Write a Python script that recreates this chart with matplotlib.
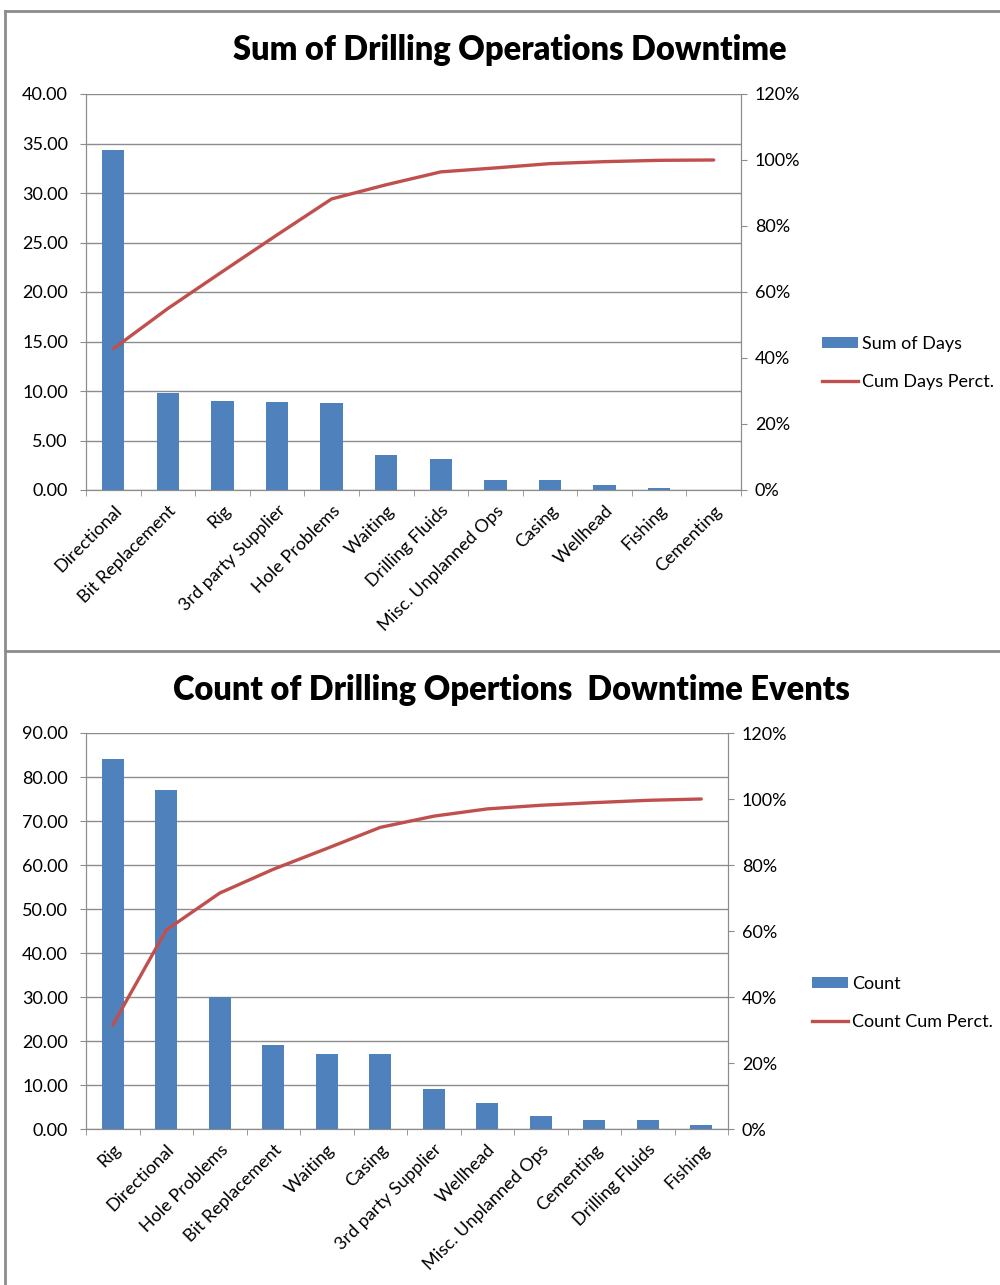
import matplotlib
matplotlib.use("Agg")
import matplotlib.pyplot as plt
from matplotlib.lines import Line2D
from matplotlib.patches import Patch
from matplotlib.ticker import FuncFormatter, MultipleLocator
import numpy as np

plt.rcParams['font.family'] = ['Lato', 'DejaVu Sans']

# --- Downtime in days by category ---
days_categories = ["Directional", "Bit Replacement", "Rig", "3rd party Supplier",
                   "Hole Problems", "Waiting", "Drilling Fluids", "Misc. Unplanned Ops",
                   "Casing", "Wellhead", "Fishing", "Cementing"]
sum_of_days = [34.3, 9.8, 9.0, 8.9, 8.8, 3.5, 3.1, 1.0, 1.0, 0.5, 0.2, 0.05]
cum_days_pct = [42.8, 55.0, 66.2, 77.3, 88.2, 92.5, 96.4, 97.6, 98.9, 99.5, 99.9, 100.0]

# --- Downtime event counts by category ---
count_categories = ["Rig", "Directional", "Hole Problems", "Bit Replacement", "Waiting",
                    "Casing", "3rd party Supplier", "Wellhead", "Misc. Unplanned Ops",
                    "Cementing", "Drilling Fluids", "Fishing"]
event_count = [84, 77, 30, 19, 17, 17, 9, 6, 3, 2, 2, 1]
count_cum_pct = [31.5, 60.3, 71.5, 78.7, 85.0, 91.4, 94.8, 97.0, 98.1, 98.9, 99.6, 100.0]

BLUE = "#4F81BD"
RED = "#C0504D"
GRID = "#8C8C8C"
AXIS = "#8C8C8C"
FS = 13

W, H = 1000, 1285
fig = plt.figure(figsize=(W / 100, H / 100), dpi=100)


def px_axes(left, top, right, bottom):
    return fig.add_axes([left / W, 1 - bottom / H, (right - left) / W, (bottom - top) / H])


def pareto(box, cats, vals, pct, ymax, ystep, title, title_xy, bar_label, line_label, leg_xy):
    ax = px_axes(*box)
    n = len(cats)
    x = np.arange(n)
    ax.bar(x, vals, width=0.41, color=BLUE, zorder=3)
    ax.set_xlim(-0.5, n - 0.5)
    ax.set_ylim(0, ymax)
    ax.yaxis.set_major_locator(MultipleLocator(ystep))
    ax.yaxis.set_major_formatter(FuncFormatter(lambda v, p: f"{v:.2f}"))
    ax.grid(axis='y', color=GRID, linewidth=1.0, zorder=0)
    ax.set_axisbelow(True)

    ax.set_xticks(x)
    ax.set_xticklabels(cats, rotation=45, ha='right', rotation_mode='anchor', fontsize=FS)
    ax.tick_params(axis='x', which='major', length=0, pad=9)
    ax.set_xticks(np.arange(n + 1) - 0.5, minor=True)
    ax.tick_params(axis='x', which='minor', length=4, color=AXIS, direction='out')
    ax.tick_params(axis='y', length=4, color=AXIS, labelsize=FS, pad=9)

    ax.spines['top'].set_visible(False)
    for s in ['left', 'bottom', 'right']:
        ax.spines[s].set_color(AXIS)

    ax2 = ax.twinx()
    ax2.plot(x, pct, color=RED, linewidth=2.4, zorder=4, solid_capstyle='round')
    ax2.set_ylim(0, 120)
    ax2.yaxis.set_major_locator(MultipleLocator(20))
    ax2.yaxis.set_major_formatter(FuncFormatter(lambda v, p: f"{v:.0f}%"))
    ax2.tick_params(axis='y', length=4, color=AXIS, labelsize=FS, pad=6)
    ax2.spines['top'].set_visible(False)
    for s in ['left', 'bottom', 'right']:
        ax2.spines[s].set_color(AXIS)

    fig.text(title_xy[0] / W, 1 - title_xy[1] / H, title, ha='center', va='center',
             fontsize=23.5, fontweight='heavy')

    handles = [Patch(facecolor=BLUE, edgecolor='none'),
               Line2D([], [], color=RED, linewidth=2.4)]
    fig.legend(handles, [bar_label, line_label], loc='upper left',
               bbox_to_anchor=(leg_xy[0] / W, 1 - leg_xy[1] / H),
               frameon=False, fontsize=FS, handlelength=2.0, handleheight=0.55,
               handletextpad=0.2, labelspacing=1.2, borderpad=0, borderaxespad=0)
    return ax, ax2


pareto((86, 94, 741, 490), days_categories, sum_of_days, cum_days_pct, 40, 5,
       "Sum of Drilling Operations Downtime", (510, 50),
       "Sum of Days", "Cum Days Perct.", (822, 336))

pareto((86, 733, 728, 1129), count_categories, event_count, count_cum_pct, 90, 10,
       "Count of Drilling Opertions  Downtime Events", (511, 690),
       "Count", "Count Cum Perct.", (812, 976))

# chart frame lines
frame_kw = dict(color="#8C8C8C", linewidth=2.0, transform=fig.transFigure)
fig.add_artist(Line2D([5 / W, 1.0], [1 - 11 / H, 1 - 11 / H], **frame_kw))
fig.add_artist(Line2D([5 / W, 5 / W], [0, 1 - 11 / H], **frame_kw))
fig.add_artist(Line2D([5 / W, 1.0], [1 - 651 / H, 1 - 651 / H], **frame_kw))

fig.savefig("out.png", dpi=100)
